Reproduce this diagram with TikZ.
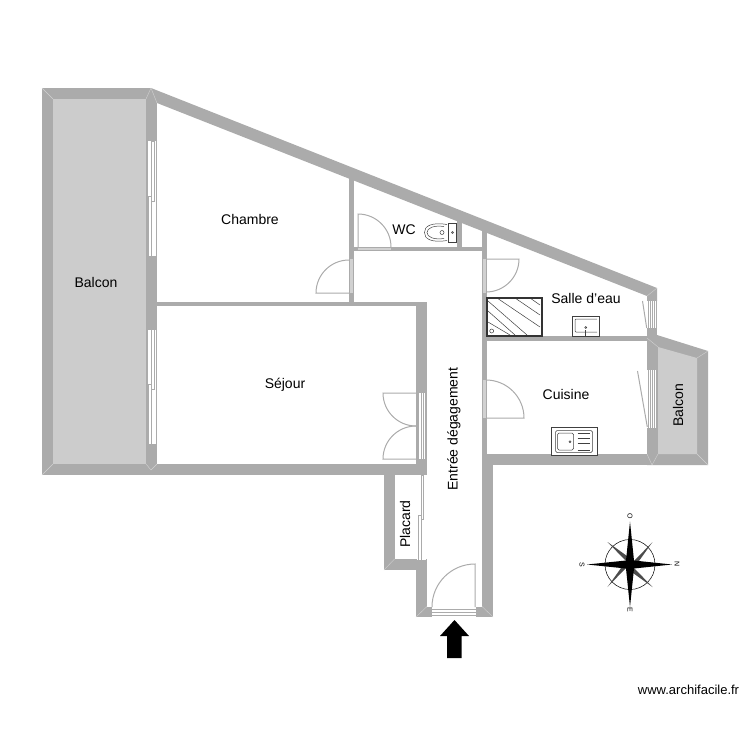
\documentclass[tikz,border=0pt]{standalone}
\usepackage{fontspec}
\setmainfont{Liberation Sans}
\tikzset{
	wall/.style={fill=black!33, draw=none},
	balcony/.style={fill=black!20, draw=none},
	door/.style={draw=black!33, line width=1pt},
	opening/.style={fill=white, draw=black!33, line width=0.6pt},
	mitre/.style={draw=black!18, line width=0.4pt},
	fixture/.style={draw=black!75, line width=0.5pt},
	room/.style={font=\fontsize{14}{14}\selectfont, inner sep=0pt}
}
\def\doorleaf(#1)(#2:#3:#4){\draw[door] (#1) -- ++(#2:#4pt) arc (#2:#3:#4pt);}
\begin{document}
\begin{tikzpicture}[x=1pt, y=-1pt]
	\useasboundingbox (0, 0) rectangle (750, 750);
	
	% balconies
	\fill[balcony] (53, 99) rectangle (146, 464);
	
	% thick walls
	\fill[wall] (42, 88) rectangle (151, 99);
	\fill[wall] (42, 88) rectangle (53, 475);
	\fill[wall] (146, 99) rectangle (157, 475);
	\fill[wall] (42, 464) rectangle (427, 475);
	\fill[wall] (151, 88) -- (657, 288) -- (657, 301) -- (647, 296) -- (157, 103) -- (146, 99) -- cycle;
	\fill[wall] (647, 294) rectangle (657, 345);
	\fill[wall] (647, 338) -- (657, 335) -- (708, 351) -- (708, 465) -- (647, 465) -- cycle;
	\fill[balcony] (658, 347) -- (697, 358) -- (697, 454) -- (658, 454) -- cycle;
	\fill[wall] (487, 454) rectangle (658, 465);
	\fill[wall] (482, 454) rectangle (493, 617);
	\fill[wall] (416, 302) rectangle (427, 475);
	\fill[wall] (384, 464) rectangle (394.5, 570);
	\fill[wall] (384, 559) rectangle (427, 570);
	\fill[wall] (416, 559) rectangle (427, 617);
	\fill[wall] (416, 606.5) rectangle (493, 617);
	
	% thin walls
	\fill[wall] (349, 174) rectangle (353.5, 302);
	\fill[wall] (353, 247) rectangle (482, 251);
	\fill[wall] (457, 212) rectangle (461.5, 247);
	\fill[wall] (482, 222) rectangle (486.5, 458);
	\fill[wall] (157, 302) rectangle (427, 306);
	\fill[wall] (486, 336) rectangle (647, 341);
	
	% corner lines
	\draw[mitre] (42, 88) -- (53, 99);
	\draw[mitre] (151, 88) -- (146, 99);
	\draw[mitre] (151, 88) -- (157, 103);
	\draw[mitre] (42, 475) -- (53, 464);
	\draw[mitre] (151, 470) -- (146, 464);
	\draw[mitre] (151, 470) -- (157, 464);
	\draw[mitre] (657, 288) -- (647, 296);
	\draw[mitre] (708, 351) -- (697, 358);
	\draw[mitre] (708, 465) -- (697, 454);
	\draw[mitre] (416, 617) -- (427, 606.5);
	\draw[mitre] (493, 617) -- (482, 606.5);
	\draw[mitre] (384, 570) -- (394.5, 559);
	\draw[mitre] (647, 338) -- (658, 347);
	\draw[mitre] (652, 465) -- (647, 454);
	\draw[mitre] (652, 465) -- (658, 454);
	
	% bay windows
	\fill[white] (147.5, 141) rectangle (156, 256);
	\draw[opening] (151.5, 141) rectangle (154.5, 201);
	\draw[opening] (148.5, 196) rectangle (151.5, 256);
	\fill[white] (147.5, 329.5) rectangle (156, 444);
	\draw[opening] (151.5, 329.5) rectangle (154.5, 389);
	\draw[opening] (148.5, 384) rectangle (151.5, 444);
	
	% small windows
	\fill[white] (647, 301) rectangle (657, 328);
	\draw[door, line width=0.7pt] (648, 301) -- (648, 328);
	\draw[door, line width=0.7pt] (650, 301) -- (650, 328);
	\draw[door, line width=0.7pt] (652.5, 301) -- (652.5, 328);
	\draw[door, line width=0.7pt] (654.5, 301) -- (654.5, 328);
	\draw[door, line width=0.7pt] (656.5, 301) -- (656.5, 328);
	\draw[door] (642.5, 301) -- (646.7, 328);
	\fill[white] (647, 370) rectangle (657, 428);
	\draw[door, line width=0.7pt] (648, 370) -- (648, 428);
	\draw[door, line width=0.7pt] (650, 370) -- (650, 428);
	\draw[door, line width=0.7pt] (652.5, 370) -- (652.5, 428);
	\draw[door, line width=0.7pt] (654.5, 370) -- (654.5, 428);
	\draw[door, line width=0.7pt] (656.5, 370) -- (656.5, 428);
	\draw[door] (637.5, 371) -- (647.3, 427);
	
	% doors
	\fill[black!18] (349.7, 259) rectangle (352.8, 293);
	\doorleaf(349, 293)(180:90:33)
	\fill[black!18] (358, 247.7) rectangle (391, 250.3);
	\doorleaf(358, 247)(90:0:33)
	\fill[black!18] (482.7, 259) rectangle (485.8, 293);
	\doorleaf(486, 259)(0:-90:33)
	\fill[black!18] (482.7, 380) rectangle (485.8, 418);
	\doorleaf(486, 418)(0:90:38)
	
	% double door
	\fill[white] (418.5, 393) rectangle (425, 459);
	\draw[door, line width=0.7pt] (421, 393) -- (421, 459);
	\draw[door, line width=0.7pt] (423, 393) -- (423, 459);
	\doorleaf(416, 393)(180:270:33)
	\doorleaf(416, 459)(180:90:33)
	
	% placard doors
	\fill[white] (417, 475.5) rectangle (426, 560);
	\draw[opening] (421, 475.5) rectangle (423.5, 519.5);
	\draw[opening] (418.5, 515) rectangle (421, 560);
	
	% entry door
	\fill[white] (432, 607) rectangle (475.5, 617);
	\draw[door, line width=0.8pt] (432, 609) -- (475.5, 609);
	\draw[door, line width=0.8pt] (432, 612) -- (475.5, 612);
	\draw[door, line width=0.8pt] (432, 615.5) -- (475.5, 615.5);
	\doorleaf(475, 607)(90:180:43)
	
	% shower
	\begin{scope}
		\clip (487, 298) rectangle (542, 336);
		\draw[fixture] (488, 301) -- (527, 335);
		\draw[fixture] (488, 311) -- (515, 335);
		\draw[fixture] (488, 322) -- (510, 335);
		\draw[fixture] (497, 298) -- (540, 327);
		\draw[fixture] (515, 298) -- (540, 315);
		\draw[fixture] (530, 298) -- (540, 305);
	\end{scope}
	\draw[black!80, line width=1.2pt] (487, 298) rectangle (542, 336);
	\draw[fixture] (491.7, 331) circle (2pt);
	
	% basin
	\draw[fixture, fill=white] (572.5, 316) rectangle (599.5, 336);
	\draw[fixture, rounded corners=1pt] (597, 319) -- (575, 319) -- (575, 332) -- (597, 332);
	\draw[fixture] (585.7, 330) -- (585.7, 335.5);
	\draw[fixture] (585.7, 327.5) circle (1pt);
	
	% toilet
	\draw[fixture] (448, 223) rectangle (456, 242);
	\draw[fixture] (452.5, 232.5) circle (1pt);
	\draw[fixture] (447, 224.5) .. controls (432, 222) and (424, 226) .. (424.5, 232.5) .. controls (424, 239) and (432, 243) .. (447, 240.5);
	\draw[fixture] (444, 226.5) .. controls (434, 225) and (427, 228) .. (427, 232.5) .. controls (427, 237) and (434, 240) .. (444, 238.5);
	\draw[fixture] (442, 232.5) circle (2pt);
	
	% kitchen sink
	\draw[fixture, fill=white] (551.5, 427.5) rectangle (597.5, 455);
	\draw[fixture, rounded corners=1.5pt] (555.5, 430.5) rectangle (592.5, 452.5);
	\draw[fixture, rounded corners=1.5pt] (557.5, 433) rectangle (573.5, 450);
	\draw[fixture] (570, 441.7) circle (1pt);
	\draw[fixture] (577.5, 433) -- (590, 433);
	\draw[fixture] (577.5, 438.3) -- (590, 438.3);
	\draw[fixture] (577.5, 443.7) -- (590, 443.7);
	\draw[fixture] (577.5, 450) -- (590, 450);
	
	% entrance arrow
	\fill[black] (454.5, 620) -- (469, 636) -- (461.7, 636) -- (461.7, 658) -- (447, 658) -- (447, 636) -- (440, 636) -- cycle;
	
	% compass
	\draw[black, line width=0.5pt] (630, 564.5) circle (25pt);
	\fill[black!70] (607.5, 542) -- (634, 561) -- (652.5, 542) -- (634, 568) -- (652.5, 587) -- (626, 568) -- (607.5, 587) -- (626, 561) -- cycle;
	\fill[black] (630, 521.5) -- (634, 560.5) -- (672, 564.5) -- (634, 568.5) -- (630, 607) -- (626, 568.5) -- (587, 564.5) -- (626, 560.5) -- cycle;
	\node[font=\fontsize{7}{7}\selectfont, inner sep=0pt, rotate=-90] (northmark) at (630, 516) {O};
	\node[font=\fontsize{7}{7}\selectfont, inner sep=0pt, rotate=-90] (eastmark) at (677, 564.5) {N};
	\node[font=\fontsize{7}{7}\selectfont, inner sep=0pt, rotate=-90] (southmark) at (630, 610) {E};
	\node[font=\fontsize{7}{7}\selectfont, inner sep=0pt, rotate=-90] (westmark) at (582, 564.5) {S};
	
	% labels
	\node[room] (balconwest) at (96, 282) {Balcon};
	\node[room] (chambre) at (250, 219) {Chambre};
	\node[room] (sejour) at (285, 385) {Séjour};
	\node[room] (wc) at (404, 230) {WC};
	\node[room] (salledeau) at (586, 298) {Salle d'eau};
	\node[room] (cuisine) at (566, 394) {Cuisine};
	\node[room, rotate=90] (entree) at (454, 429) {Entrée dégagement};
	\node[room, rotate=90] (placard) at (405, 524) {Placard};
	\node[room, rotate=90] (balconeast) at (678, 405) {Balcon};
	\node[font=\fontsize{13}{13}\selectfont, inner sep=0pt] (credit) at (688.5, 690) {www.archifacile.fr};
\end{tikzpicture}
\end{document}
